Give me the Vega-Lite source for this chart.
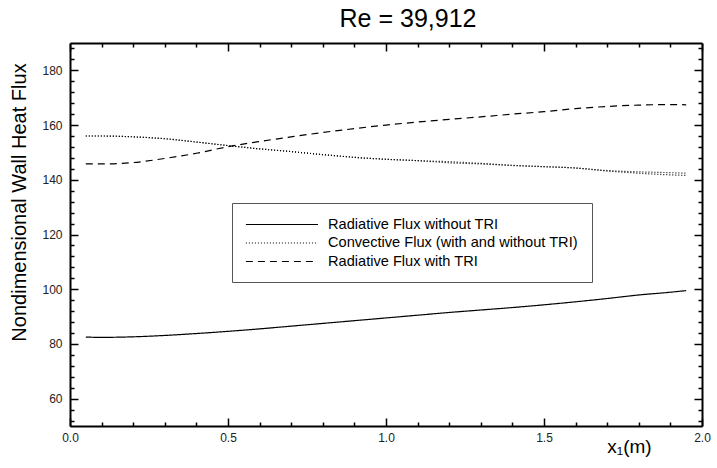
{
  "$schema": "https://vega.github.io/schema/vega-lite/v6.json",
  "autosize": "none",
  "width": 632,
  "height": 383,
  "padding": {"left": 70, "top": 43, "right": 15, "bottom": 42},
  "background": "white",
  "config": {
    "font": "Liberation Sans",
    "view": {"stroke": null},
    "axis": {
      "domainColor": "black",
      "domainWidth": 2,
      "tickColor": "black",
      "tickWidth": 1.5,
      "labelColor": "#222",
      "labelFontSize": 12,
      "labelFont": "Liberation Sans",
      "titleFont": "Liberation Sans",
      "titleFontWeight": "normal",
      "titleColor": "black",
      "grid": false
    }
  },
  "title": {
    "text": "Re = 39,912",
    "fontSize": 25,
    "fontWeight": "normal",
    "font": "Liberation Sans",
    "color": "black",
    "anchor": "middle",
    "dx": 22,
    "offset": 10
  },
  "data": {
    "values": [
      {"x": 0.05, "y": 82.5, "series": "Radiative Flux without TRI", "run": "rad"},
      {"x": 0.1, "y": 82.4, "series": "Radiative Flux without TRI", "run": "rad"},
      {"x": 0.2, "y": 82.6, "series": "Radiative Flux without TRI", "run": "rad"},
      {"x": 0.3, "y": 83.1, "series": "Radiative Flux without TRI", "run": "rad"},
      {"x": 0.4, "y": 83.8, "series": "Radiative Flux without TRI", "run": "rad"},
      {"x": 0.5, "y": 84.6, "series": "Radiative Flux without TRI", "run": "rad"},
      {"x": 0.6, "y": 85.5, "series": "Radiative Flux without TRI", "run": "rad"},
      {"x": 0.7, "y": 86.5, "series": "Radiative Flux without TRI", "run": "rad"},
      {"x": 0.8, "y": 87.5, "series": "Radiative Flux without TRI", "run": "rad"},
      {"x": 0.9, "y": 88.5, "series": "Radiative Flux without TRI", "run": "rad"},
      {"x": 1.0, "y": 89.5, "series": "Radiative Flux without TRI", "run": "rad"},
      {"x": 1.1, "y": 90.5, "series": "Radiative Flux without TRI", "run": "rad"},
      {"x": 1.2, "y": 91.5, "series": "Radiative Flux without TRI", "run": "rad"},
      {"x": 1.3, "y": 92.4, "series": "Radiative Flux without TRI", "run": "rad"},
      {"x": 1.4, "y": 93.3, "series": "Radiative Flux without TRI", "run": "rad"},
      {"x": 1.5, "y": 94.3, "series": "Radiative Flux without TRI", "run": "rad"},
      {"x": 1.6, "y": 95.4, "series": "Radiative Flux without TRI", "run": "rad"},
      {"x": 1.7, "y": 96.6, "series": "Radiative Flux without TRI", "run": "rad"},
      {"x": 1.8, "y": 97.9, "series": "Radiative Flux without TRI", "run": "rad"},
      {"x": 1.9, "y": 98.9, "series": "Radiative Flux without TRI", "run": "rad"},
      {"x": 1.95, "y": 99.5, "series": "Radiative Flux without TRI", "run": "rad"},

      {"x": 0.05, "y": 156.0, "series": "Convective Flux (with and without TRI)", "run": "convA"},
      {"x": 0.1, "y": 156.0, "series": "Convective Flux (with and without TRI)", "run": "convA"},
      {"x": 0.2, "y": 155.7, "series": "Convective Flux (with and without TRI)", "run": "convA"},
      {"x": 0.3, "y": 155.0, "series": "Convective Flux (with and without TRI)", "run": "convA"},
      {"x": 0.4, "y": 153.8, "series": "Convective Flux (with and without TRI)", "run": "convA"},
      {"x": 0.5, "y": 152.5, "series": "Convective Flux (with and without TRI)", "run": "convA"},
      {"x": 0.6, "y": 151.3, "series": "Convective Flux (with and without TRI)", "run": "convA"},
      {"x": 0.7, "y": 150.3, "series": "Convective Flux (with and without TRI)", "run": "convA"},
      {"x": 0.8, "y": 149.2, "series": "Convective Flux (with and without TRI)", "run": "convA"},
      {"x": 0.9, "y": 148.2, "series": "Convective Flux (with and without TRI)", "run": "convA"},
      {"x": 1.0, "y": 147.5, "series": "Convective Flux (with and without TRI)", "run": "convA"},
      {"x": 1.1, "y": 147.0, "series": "Convective Flux (with and without TRI)", "run": "convA"},
      {"x": 1.2, "y": 146.6, "series": "Convective Flux (with and without TRI)", "run": "convA"},
      {"x": 1.3, "y": 146.0, "series": "Convective Flux (with and without TRI)", "run": "convA"},
      {"x": 1.4, "y": 145.3, "series": "Convective Flux (with and without TRI)", "run": "convA"},
      {"x": 1.5, "y": 144.8, "series": "Convective Flux (with and without TRI)", "run": "convA"},
      {"x": 1.6, "y": 144.3, "series": "Convective Flux (with and without TRI)", "run": "convA"},
      {"x": 1.7, "y": 143.4, "series": "Convective Flux (with and without TRI)", "run": "convA"},
      {"x": 1.8, "y": 142.9, "series": "Convective Flux (with and without TRI)", "run": "convA"},
      {"x": 1.9, "y": 142.6, "series": "Convective Flux (with and without TRI)", "run": "convA"},
      {"x": 1.95, "y": 142.4, "series": "Convective Flux (with and without TRI)", "run": "convA"},

      {"x": 0.05, "y": 156.0, "series": "Convective Flux (with and without TRI)", "run": "convB"},
      {"x": 0.1, "y": 156.0, "series": "Convective Flux (with and without TRI)", "run": "convB"},
      {"x": 0.2, "y": 155.7, "series": "Convective Flux (with and without TRI)", "run": "convB"},
      {"x": 0.3, "y": 155.0, "series": "Convective Flux (with and without TRI)", "run": "convB"},
      {"x": 0.4, "y": 153.8, "series": "Convective Flux (with and without TRI)", "run": "convB"},
      {"x": 0.5, "y": 152.5, "series": "Convective Flux (with and without TRI)", "run": "convB"},
      {"x": 0.6, "y": 151.3, "series": "Convective Flux (with and without TRI)", "run": "convB"},
      {"x": 0.7, "y": 150.3, "series": "Convective Flux (with and without TRI)", "run": "convB"},
      {"x": 0.8, "y": 149.2, "series": "Convective Flux (with and without TRI)", "run": "convB"},
      {"x": 0.9, "y": 148.2, "series": "Convective Flux (with and without TRI)", "run": "convB"},
      {"x": 1.0, "y": 147.5, "series": "Convective Flux (with and without TRI)", "run": "convB"},
      {"x": 1.1, "y": 147.0, "series": "Convective Flux (with and without TRI)", "run": "convB"},
      {"x": 1.2, "y": 146.2, "series": "Convective Flux (with and without TRI)", "run": "convB"},
      {"x": 1.3, "y": 145.8, "series": "Convective Flux (with and without TRI)", "run": "convB"},
      {"x": 1.4, "y": 145.2, "series": "Convective Flux (with and without TRI)", "run": "convB"},
      {"x": 1.5, "y": 144.8, "series": "Convective Flux (with and without TRI)", "run": "convB"},
      {"x": 1.6, "y": 144.3, "series": "Convective Flux (with and without TRI)", "run": "convB"},
      {"x": 1.7, "y": 143.2, "series": "Convective Flux (with and without TRI)", "run": "convB"},
      {"x": 1.8, "y": 142.4, "series": "Convective Flux (with and without TRI)", "run": "convB"},
      {"x": 1.9, "y": 141.8, "series": "Convective Flux (with and without TRI)", "run": "convB"},
      {"x": 1.95, "y": 141.6, "series": "Convective Flux (with and without TRI)", "run": "convB"},

      {"x": 0.05, "y": 145.8, "series": "Radiative Flux with TRI", "run": "tri"},
      {"x": 0.1, "y": 145.8, "series": "Radiative Flux with TRI", "run": "tri"},
      {"x": 0.2, "y": 146.3, "series": "Radiative Flux with TRI", "run": "tri"},
      {"x": 0.3, "y": 147.8, "series": "Radiative Flux with TRI", "run": "tri"},
      {"x": 0.4, "y": 149.7, "series": "Radiative Flux with TRI", "run": "tri"},
      {"x": 0.5, "y": 152.1, "series": "Radiative Flux with TRI", "run": "tri"},
      {"x": 0.6, "y": 154.0, "series": "Radiative Flux with TRI", "run": "tri"},
      {"x": 0.7, "y": 155.7, "series": "Radiative Flux with TRI", "run": "tri"},
      {"x": 0.8, "y": 157.3, "series": "Radiative Flux with TRI", "run": "tri"},
      {"x": 0.9, "y": 158.7, "series": "Radiative Flux with TRI", "run": "tri"},
      {"x": 1.0, "y": 160.0, "series": "Radiative Flux with TRI", "run": "tri"},
      {"x": 1.1, "y": 161.1, "series": "Radiative Flux with TRI", "run": "tri"},
      {"x": 1.2, "y": 162.1, "series": "Radiative Flux with TRI", "run": "tri"},
      {"x": 1.3, "y": 163.0, "series": "Radiative Flux with TRI", "run": "tri"},
      {"x": 1.4, "y": 164.0, "series": "Radiative Flux with TRI", "run": "tri"},
      {"x": 1.5, "y": 164.9, "series": "Radiative Flux with TRI", "run": "tri"},
      {"x": 1.6, "y": 166.0, "series": "Radiative Flux with TRI", "run": "tri"},
      {"x": 1.7, "y": 166.8, "series": "Radiative Flux with TRI", "run": "tri"},
      {"x": 1.8, "y": 167.3, "series": "Radiative Flux with TRI", "run": "tri"},
      {"x": 1.9, "y": 167.5, "series": "Radiative Flux with TRI", "run": "tri"},
      {"x": 1.95, "y": 167.4, "series": "Radiative Flux with TRI", "run": "tri"}
    ]
  },
  "layer": [
    {
      "mark": {"type": "line", "color": "black", "strokeWidth": 1.2, "interpolate": "monotone"},
      "encoding": {
        "x": {
          "field": "x", "type": "quantitative",
          "scale": {"domain": [0, 2], "nice": false, "zero": false},
          "axis": {
            "orient": "bottom",
            "values": [0, 0.1, 0.2, 0.3, 0.4, 0.5, 0.6, 0.7, 0.8, 0.9, 1.0, 1.1, 1.2, 1.3, 1.4, 1.5, 1.6, 1.7, 1.8, 1.9, 2.0],
            "format": ".1f",
            "labelExpr": "round(datum.value*10) % 5 == 0 ? datum.label : ''",
            "tickSize": {"condition": {"test": "round(datum.value*10) % 5 == 0", "value": -8}, "value": -4},
            "labelPadding": 14,
            "labelFlush": false,
            "labelOverlap": false,
            "title": "x₁(m)",
            "titleFontSize": 19,
            "titleX": 559,
            "titleY": 20,
            "titleAlign": "center",
            "titleBaseline": "middle"
          }
        },
        "y": {
          "field": "y", "type": "quantitative",
          "scale": {"domain": [50, 190], "nice": false, "zero": false},
          "axis": {
            "orient": "left",
            "values": [52, 56, 60, 64, 68, 72, 76, 80, 84, 88, 92, 96, 100, 104, 108, 112, 116, 120, 124, 128, 132, 136, 140, 144, 148, 152, 156, 160, 164, 168, 172, 176, 180, 184, 188],
            "labelExpr": "datum.value % 20 == 0 ? datum.label : ''",
            "tickSize": {"condition": {"test": "datum.value % 20 == 0", "value": -8}, "value": -4},
            "labelPadding": 16,
            "labelOverlap": false,
            "title": "Nondimensional Wall Heat Flux",
            "titleFontSize": 20,
            "titleX": -51,
            "titleY": 159,
            "titleAngle": -90,
            "titleAlign": "center",
            "titleBaseline": "middle"
          }
        },
        "strokeDash": {
          "field": "series", "type": "nominal",
          "scale": {
            "domain": ["Radiative Flux without TRI", "Convective Flux (with and without TRI)", "Radiative Flux with TRI"],
            "range": [[1, 0], [1, 2], [7, 5]]
          },
          "legend": {
            "orient": "none",
            "legendX": 162,
            "legendY": 160,
            "title": null,
            "padding": 13.5,
            "strokeColor": "#555",
            "fillColor": "white",
            "symbolType": "M-9.3,0H1",
            "symbolSize": 196,
            "symbolOffset": 57.5,
            "symbolStrokeWidth": 1.2,
            "symbolStrokeColor": "black",
            "symbolFillColor": "transparent",
            "rowPadding": 3.5,
            "labelFontSize": 14.6,
            "labelColor": "black",
            "labelOffset": 9,
            "labelLimit": 400
          }
        },
        "detail": {"field": "run"}
      }
    },
    {
      "mark": {"type": "point", "opacity": 0},
      "encoding": {
        "x": {
          "field": "x", "type": "quantitative",
          "axis": {
            "orient": "top",
            "values": [0, 0.1, 0.2, 0.3, 0.4, 0.5, 0.6, 0.7, 0.8, 0.9, 1.0, 1.1, 1.2, 1.3, 1.4, 1.5, 1.6, 1.7, 1.8, 1.9, 2.0],
            "labels": false,
            "tickSize": {"condition": {"test": "round(datum.value*10) % 5 == 0", "value": -8}, "value": -4},
            "title": null
          }
        },
        "y": {
          "field": "y", "type": "quantitative",
          "axis": {
            "orient": "right",
            "values": [52, 56, 60, 64, 68, 72, 76, 80, 84, 88, 92, 96, 100, 104, 108, 112, 116, 120, 124, 128, 132, 136, 140, 144, 148, 152, 156, 160, 164, 168, 172, 176, 180, 184, 188],
            "labels": false,
            "tickSize": {"condition": {"test": "datum.value % 20 == 0", "value": -8}, "value": -4},
            "title": null
          }
        }
      }
    }
  ],
  "resolve": {"axis": {"x": "independent", "y": "independent"}}
}
